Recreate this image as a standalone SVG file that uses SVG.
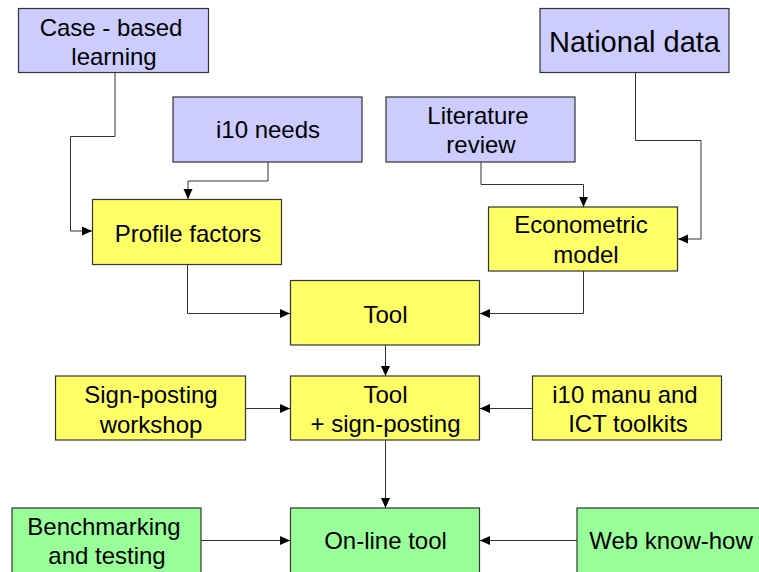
<svg xmlns="http://www.w3.org/2000/svg" width="759" height="572" viewBox="0 0 759 572">
<defs>
<style>
.b{fill:#CCCCFF;stroke:#333;stroke-width:1.2}
.y{fill:#FFFF66;stroke:#333;stroke-width:1.2}
.g{fill:#99FF99;stroke:#333;stroke-width:1.2}
text{font-family:"Liberation Sans",Arial,sans-serif;font-size:24px;fill:#000;text-anchor:middle}
.c{fill:none;stroke:#333;stroke-width:1;marker-end:url(#ah)}
</style>
<marker id="ah" markerUnits="userSpaceOnUse" markerWidth="11" markerHeight="10" refX="10" refY="4.5" orient="auto">
<path d="M0,0 L10,4.5 L0,9 z" fill="#000"/>
</marker>
</defs>
<g id="connectors">
<path class="c" d="M115,73 V136.5 H70.5 V231 H92"/>
<path class="c" d="M268,162 V181 H188 V199"/>
<path class="c" d="M481,162 V184.5 H583.5 V207"/>
<path class="c" d="M635.5,73 V140.5 H701 V239 H678"/>
<path class="c" d="M187.5,264 V313.5 H290"/>
<path class="c" d="M583.5,271 V313.5 H480"/>
<path class="c" d="M385.5,345 V376"/>
<path class="c" d="M245,408.5 H290"/>
<path class="c" d="M532,408.5 H480"/>
<path class="c" d="M385.5,440 V508"/>
<path class="c" d="M201,540.5 H290"/>
<path class="c" d="M577,540.5 H480"/>
</g>
<g id="case-based"><rect class="b" x="18.5" y="8.5" width="190" height="64"/><text x="111" y="36">Case - based</text><text x="114" y="65">learning</text></g>
<g id="i10-needs"><rect class="b" x="173" y="97" width="189" height="65"/><text x="268" y="138">i10 needs</text></g>
<g id="national-data"><rect class="b" x="540" y="8.5" width="189" height="64"/><text x="634.5" y="52" style="font-size:29px">National data</text></g>
<g id="literature-review"><rect class="b" x="386" y="97" width="189" height="65"/><text x="478" y="124">Literature</text><text x="481" y="153">review</text></g>
<g id="profile-factors"><rect class="y" x="92.5" y="199.5" width="189" height="65"/><text x="188" y="242">Profile factors</text></g>
<g id="econometric-model"><rect class="y" x="488.5" y="207" width="189" height="64"/><text x="581" y="233">Econometric</text><text x="586" y="262.5">model</text></g>
<g id="tool"><rect class="y" x="290.5" y="280.5" width="189" height="64.5"/><text x="385.5" y="322.5">Tool</text></g>
<g id="sign-posting-workshop"><rect class="y" x="55.5" y="376" width="190" height="64"/><text x="151" y="403">Sign-posting</text><text x="151" y="432.5">workshop</text></g>
<g id="tool-sign-posting"><rect class="y" x="290.5" y="376" width="189" height="64"/><text x="385.5" y="402.5">Tool</text><text x="385.5" y="431.5">+ sign-posting</text></g>
<g id="i10-manu"><rect class="y" x="532.5" y="376" width="189" height="64"/><text x="625" y="402.5">i10 manu and</text><text x="628" y="432">ICT toolkits</text></g>
<g id="benchmarking"><rect class="g" x="12" y="508" width="189" height="70"/><text x="104" y="535">Benchmarking</text><text x="107" y="564">and testing</text></g>
<g id="on-line-tool"><rect class="g" x="290.5" y="508" width="189" height="70"/><text x="385.5" y="549">On-line tool</text></g>
<g id="web-know-how"><rect class="g" x="577" y="508" width="190" height="70"/><text x="671" y="549">Web know-how</text></g>
</svg>
